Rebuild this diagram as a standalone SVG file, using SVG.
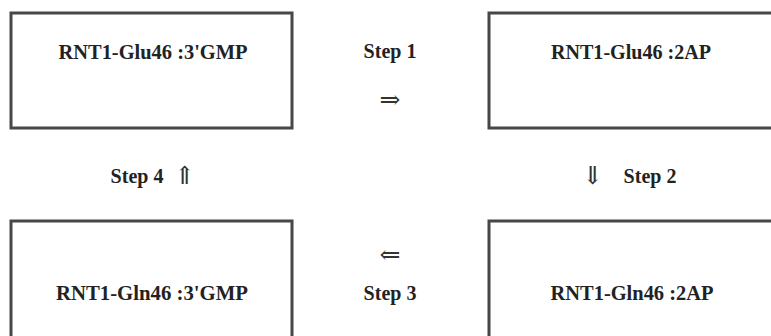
<svg xmlns="http://www.w3.org/2000/svg" width="771" height="336" viewBox="0 0 771 336">
<style>
.box{fill:#fff;stroke:#474747;stroke-width:3}
.lbl{font-family:'Liberation Serif',Tinos,'DejaVu Serif',serif;font-weight:bold;font-size:20px;fill:#222;text-anchor:middle}
.arr{font-family:'Liberation Serif','DejaVu Serif',serif;font-size:25px;fill:#333;text-anchor:middle}
</style>
<rect width="771" height="336" fill="#fff"/>
<g id="n1"><rect class="box" x="11" y="13" width="281" height="115"/><text class="lbl" x="153" y="59" textLength="189" lengthAdjust="spacingAndGlyphs">RNT1-Glu46 :3'GMP</text></g>
<g id="n2"><rect class="box" x="489" y="13" width="290" height="115"/><text class="lbl" x="631" y="59" textLength="160" lengthAdjust="spacingAndGlyphs">RNT1-Glu46 :2AP</text></g>
<g id="n3"><rect class="box" x="11" y="221" width="281" height="125"/><text class="lbl" x="152" y="300" textLength="192" lengthAdjust="spacingAndGlyphs">RNT1-Gln46 :3'GMP</text></g>
<g id="n4"><rect class="box" x="489" y="221" width="290" height="125"/><text class="lbl" x="632" y="300" textLength="163" lengthAdjust="spacingAndGlyphs">RNT1-Gln46 :2AP</text></g>
<g id="connectors">
<text class="lbl" x="390" y="58">Step 1</text>
<text class="arr" x="390" y="108">⇒</text>
<text class="lbl" x="650" y="183">Step 2</text>
<text class="arr" x="593" y="184">⇓</text>
<text class="arr" x="390" y="263">⇐</text>
<text class="lbl" x="390" y="300">Step 3</text>
<text class="lbl" x="137" y="183">Step 4</text>
<text class="arr" x="185" y="184">⇑</text>
</g>
</svg>
